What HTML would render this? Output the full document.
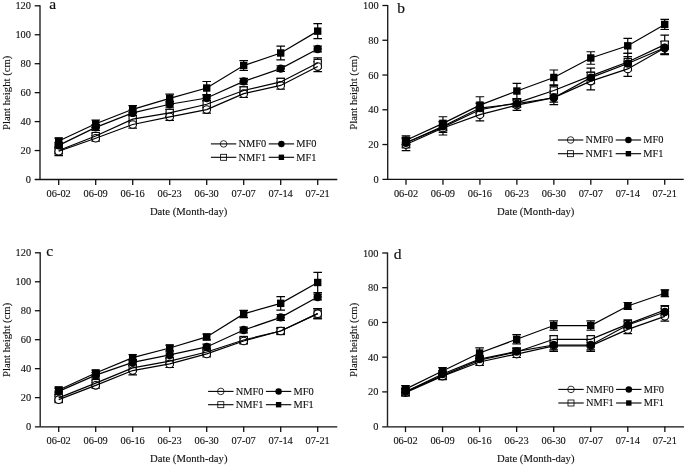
<!DOCTYPE html>
<html><head><meta charset="utf-8"><style>
html,body{margin:0;padding:0;background:#fff;}
svg{display:block;will-change:transform;}
.t{font-family:"Liberation Serif", serif;font-size:10.4px;fill:#111;stroke:#111;stroke-width:0.12px;}
.t2{font-family:"Liberation Serif", serif;font-size:10.7px;fill:#111;stroke:#111;stroke-width:0.12px;}
.lab{font-family:"Liberation Serif", serif;font-size:15.5px;fill:#111;stroke:#111;stroke-width:0.2px;}
</style></head><body>
<svg width="685" height="467" viewBox="0 0 685 467">
<line x1="40.00" y1="5.30" x2="40.00" y2="179.50" stroke="#222" stroke-width="1.4"/>
<line x1="34.70" y1="179.50" x2="337.30" y2="179.50" stroke="#111" stroke-width="1.3"/>
<text x="31.00" y="183.10" text-anchor="end" class="t">0</text>
<line x1="34.70" y1="150.55" x2="40.00" y2="150.55" stroke="#111" stroke-width="1.3"/>
<text x="31.00" y="154.15" text-anchor="end" class="t">20</text>
<line x1="34.70" y1="121.60" x2="40.00" y2="121.60" stroke="#111" stroke-width="1.3"/>
<text x="31.00" y="125.20" text-anchor="end" class="t">40</text>
<line x1="34.70" y1="92.65" x2="40.00" y2="92.65" stroke="#111" stroke-width="1.3"/>
<text x="31.00" y="96.25" text-anchor="end" class="t">60</text>
<line x1="34.70" y1="63.70" x2="40.00" y2="63.70" stroke="#111" stroke-width="1.3"/>
<text x="31.00" y="67.30" text-anchor="end" class="t">80</text>
<line x1="34.70" y1="34.75" x2="40.00" y2="34.75" stroke="#111" stroke-width="1.3"/>
<text x="31.00" y="38.35" text-anchor="end" class="t">100</text>
<line x1="34.70" y1="5.80" x2="40.00" y2="5.80" stroke="#111" stroke-width="1.3"/>
<text x="31.00" y="9.40" text-anchor="end" class="t">120</text>
<line x1="58.70" y1="179.50" x2="58.70" y2="185.00" stroke="#111" stroke-width="1.3"/>
<text x="58.70" y="197.00" text-anchor="middle" class="t">06-02</text>
<line x1="95.70" y1="179.50" x2="95.70" y2="185.00" stroke="#111" stroke-width="1.3"/>
<text x="95.70" y="197.00" text-anchor="middle" class="t">06-09</text>
<line x1="132.70" y1="179.50" x2="132.70" y2="185.00" stroke="#111" stroke-width="1.3"/>
<text x="132.70" y="197.00" text-anchor="middle" class="t">06-16</text>
<line x1="169.70" y1="179.50" x2="169.70" y2="185.00" stroke="#111" stroke-width="1.3"/>
<text x="169.70" y="197.00" text-anchor="middle" class="t">06-23</text>
<line x1="206.70" y1="179.50" x2="206.70" y2="185.00" stroke="#111" stroke-width="1.3"/>
<text x="206.70" y="197.00" text-anchor="middle" class="t">06-30</text>
<line x1="243.70" y1="179.50" x2="243.70" y2="185.00" stroke="#111" stroke-width="1.3"/>
<text x="243.70" y="197.00" text-anchor="middle" class="t">07-07</text>
<line x1="280.70" y1="179.50" x2="280.70" y2="185.00" stroke="#111" stroke-width="1.3"/>
<text x="280.70" y="197.00" text-anchor="middle" class="t">07-14</text>
<line x1="317.70" y1="179.50" x2="317.70" y2="185.00" stroke="#111" stroke-width="1.3"/>
<text x="317.70" y="197.00" text-anchor="middle" class="t">07-21</text>
<text x="188.65" y="214.80" text-anchor="middle" class="t2">Date (Month-day)</text>
<text transform="translate(9.60,92.80) rotate(-90)" text-anchor="middle" class="t2">Plant height (cm)</text>
<text x="49.30" y="8.80" class="lab">a</text>
<path d="M58.70,147.66V153.44M54.40,147.66H63.00M54.40,153.44H63.00" stroke="#000" stroke-width="1.2" fill="none"/>
<path d="M95.70,133.18V138.97M91.40,133.18H100.00M91.40,138.97H100.00" stroke="#000" stroke-width="1.2" fill="none"/>
<path d="M132.70,115.52V122.76M128.40,115.52H137.00M128.40,122.76H137.00" stroke="#000" stroke-width="1.2" fill="none"/>
<path d="M169.70,109.30V116.53M165.40,109.30H174.00M165.40,116.53H174.00" stroke="#000" stroke-width="1.2" fill="none"/>
<path d="M206.70,100.61V107.85M202.40,100.61H211.00M202.40,107.85H211.00" stroke="#000" stroke-width="1.2" fill="none"/>
<path d="M243.70,86.86V94.10M239.40,86.86H248.00M239.40,94.10H248.00" stroke="#000" stroke-width="1.2" fill="none"/>
<path d="M280.70,78.32V85.56M276.40,78.32H285.00M276.40,85.56H285.00" stroke="#000" stroke-width="1.2" fill="none"/>
<path d="M317.70,57.91V68.04M313.40,57.91H322.00M313.40,68.04H322.00" stroke="#000" stroke-width="1.2" fill="none"/>
<path d="M58.70,146.93V155.62M54.40,146.93H63.00M54.40,155.62H63.00" stroke="#000" stroke-width="1.2" fill="none"/>
<path d="M95.70,135.35V141.14M91.40,135.35H100.00M91.40,141.14H100.00" stroke="#000" stroke-width="1.2" fill="none"/>
<path d="M132.70,120.88V128.11M128.40,120.88H137.00M128.40,128.11H137.00" stroke="#000" stroke-width="1.2" fill="none"/>
<path d="M169.70,113.20V120.44M165.40,113.20H174.00M165.40,120.44H174.00" stroke="#000" stroke-width="1.2" fill="none"/>
<path d="M206.70,105.97V113.20M202.40,105.97H211.00M202.40,113.20H211.00" stroke="#000" stroke-width="1.2" fill="none"/>
<path d="M243.70,90.04V97.28M239.40,90.04H248.00M239.40,97.28H248.00" stroke="#000" stroke-width="1.2" fill="none"/>
<path d="M280.70,81.79V89.03M276.40,81.79H285.00M276.40,89.03H285.00" stroke="#000" stroke-width="1.2" fill="none"/>
<path d="M317.70,61.53V71.66M313.40,61.53H322.00M313.40,71.66H322.00" stroke="#000" stroke-width="1.2" fill="none"/>
<path d="M58.70,142.44V148.23M54.40,142.44H63.00M54.40,148.23H63.00" stroke="#000" stroke-width="1.2" fill="none"/>
<path d="M95.70,124.50V130.28M91.40,124.50H100.00M91.40,130.28H100.00" stroke="#000" stroke-width="1.2" fill="none"/>
<path d="M132.70,110.02V115.81M128.40,110.02H137.00M128.40,115.81H137.00" stroke="#000" stroke-width="1.2" fill="none"/>
<path d="M169.70,101.33V107.12M165.40,101.33H174.00M165.40,107.12H174.00" stroke="#000" stroke-width="1.2" fill="none"/>
<path d="M206.70,95.11V100.90M202.40,95.11H211.00M202.40,100.90H211.00" stroke="#000" stroke-width="1.2" fill="none"/>
<path d="M243.70,78.46V84.25M239.40,78.46H248.00M239.40,84.25H248.00" stroke="#000" stroke-width="1.2" fill="none"/>
<path d="M280.70,65.73V71.52M276.40,65.73H285.00M276.40,71.52H285.00" stroke="#000" stroke-width="1.2" fill="none"/>
<path d="M317.70,46.04V51.83M313.40,46.04H322.00M313.40,51.83H322.00" stroke="#000" stroke-width="1.2" fill="none"/>
<path d="M58.70,138.10V143.89M54.40,138.10H63.00M54.40,143.89H63.00" stroke="#000" stroke-width="1.2" fill="none"/>
<path d="M95.70,120.01V127.53M91.40,120.01H100.00M91.40,127.53H100.00" stroke="#000" stroke-width="1.2" fill="none"/>
<path d="M132.70,105.68V112.92M128.40,105.68H137.00M128.40,112.92H137.00" stroke="#000" stroke-width="1.2" fill="none"/>
<path d="M169.70,94.10V102.78M165.40,94.10H174.00M165.40,102.78H174.00" stroke="#000" stroke-width="1.2" fill="none"/>
<path d="M206.70,81.50V94.53M202.40,81.50H211.00M202.40,94.53H211.00" stroke="#000" stroke-width="1.2" fill="none"/>
<path d="M243.70,60.66V70.50M239.40,60.66H248.00M239.40,70.50H248.00" stroke="#000" stroke-width="1.2" fill="none"/>
<path d="M280.70,46.04V59.94M276.40,46.04H285.00M276.40,59.94H285.00" stroke="#000" stroke-width="1.2" fill="none"/>
<path d="M317.70,23.60V38.66M313.40,23.60H322.00M313.40,38.66H322.00" stroke="#000" stroke-width="1.2" fill="none"/>
<rect x="55.10" y="146.95" width="7.20" height="7.20" fill="#fff" stroke="#000" stroke-width="1.1"/>
<rect x="92.10" y="132.47" width="7.20" height="7.20" fill="#fff" stroke="#000" stroke-width="1.1"/>
<rect x="129.10" y="115.54" width="7.20" height="7.20" fill="#fff" stroke="#000" stroke-width="1.1"/>
<rect x="166.10" y="109.32" width="7.20" height="7.20" fill="#fff" stroke="#000" stroke-width="1.1"/>
<rect x="203.10" y="100.63" width="7.20" height="7.20" fill="#fff" stroke="#000" stroke-width="1.1"/>
<rect x="240.10" y="86.88" width="7.20" height="7.20" fill="#fff" stroke="#000" stroke-width="1.1"/>
<rect x="277.10" y="78.34" width="7.20" height="7.20" fill="#fff" stroke="#000" stroke-width="1.1"/>
<rect x="314.10" y="59.38" width="7.20" height="7.20" fill="#fff" stroke="#000" stroke-width="1.1"/>
<circle cx="58.70" cy="151.27" r="3.80" fill="#fff" stroke="#000" stroke-width="1.1"/>
<circle cx="95.70" cy="138.25" r="3.80" fill="#fff" stroke="#000" stroke-width="1.1"/>
<circle cx="132.70" cy="124.50" r="3.80" fill="#fff" stroke="#000" stroke-width="1.1"/>
<circle cx="169.70" cy="116.82" r="3.80" fill="#fff" stroke="#000" stroke-width="1.1"/>
<circle cx="206.70" cy="109.59" r="3.80" fill="#fff" stroke="#000" stroke-width="1.1"/>
<circle cx="243.70" cy="93.66" r="3.80" fill="#fff" stroke="#000" stroke-width="1.1"/>
<circle cx="280.70" cy="85.41" r="3.80" fill="#fff" stroke="#000" stroke-width="1.1"/>
<circle cx="317.70" cy="66.59" r="3.80" fill="#fff" stroke="#000" stroke-width="1.1"/>
<circle cx="58.70" cy="145.34" r="4.20" fill="#000"/>
<circle cx="95.70" cy="127.39" r="4.20" fill="#000"/>
<circle cx="132.70" cy="112.92" r="4.20" fill="#000"/>
<circle cx="169.70" cy="104.23" r="4.20" fill="#000"/>
<circle cx="206.70" cy="98.01" r="4.20" fill="#000"/>
<circle cx="243.70" cy="81.36" r="4.20" fill="#000"/>
<circle cx="280.70" cy="68.62" r="4.20" fill="#000"/>
<circle cx="317.70" cy="48.94" r="4.20" fill="#000"/>
<rect x="55.00" y="137.30" width="7.40" height="7.40" fill="#000"/>
<rect x="92.00" y="120.07" width="7.40" height="7.40" fill="#000"/>
<rect x="129.00" y="105.60" width="7.40" height="7.40" fill="#000"/>
<rect x="166.00" y="94.74" width="7.40" height="7.40" fill="#000"/>
<rect x="203.00" y="84.32" width="7.40" height="7.40" fill="#000"/>
<rect x="240.00" y="61.88" width="7.40" height="7.40" fill="#000"/>
<rect x="277.00" y="49.29" width="7.40" height="7.40" fill="#000"/>
<rect x="314.00" y="27.43" width="7.40" height="7.40" fill="#000"/>
<polyline points="58.70,150.55 95.70,136.07 132.70,119.14 169.70,112.92 206.70,104.23 243.70,90.48 280.70,81.94 317.70,62.98" fill="none" stroke="#000" stroke-width="1.2"/>
<polyline points="58.70,151.27 95.70,138.25 132.70,124.50 169.70,116.82 206.70,109.59 243.70,93.66 280.70,85.41 317.70,66.59" fill="none" stroke="#000" stroke-width="1.2"/>
<polyline points="58.70,145.34 95.70,127.39 132.70,112.92 169.70,104.23 206.70,98.01 243.70,81.36 280.70,68.62 317.70,48.94" fill="none" stroke="#000" stroke-width="1.2"/>
<polyline points="58.70,141.00 95.70,123.77 132.70,109.30 169.70,98.44 206.70,88.02 243.70,65.58 280.70,52.99 317.70,31.13" fill="none" stroke="#000" stroke-width="1.2"/>
<line x1="210.90" y1="143.90" x2="236.30" y2="143.90" stroke="#000" stroke-width="1.1"/>
<circle cx="223.60" cy="143.90" r="3.30" fill="none" stroke="#000" stroke-width="0.8"/>
<text x="238.50" y="147.20" class="t">NMF0</text>
<line x1="268.70" y1="143.90" x2="294.10" y2="143.90" stroke="#000" stroke-width="1.1"/>
<circle cx="281.40" cy="143.90" r="3.25" fill="#000"/>
<text x="296.30" y="147.20" class="t">MF0</text>
<line x1="210.90" y1="157.30" x2="236.30" y2="157.30" stroke="#000" stroke-width="1.1"/>
<rect x="220.60" y="154.30" width="6.00" height="6.00" fill="none" stroke="#000" stroke-width="0.8"/>
<text x="238.50" y="160.60" class="t">NMF1</text>
<line x1="268.70" y1="157.30" x2="294.10" y2="157.30" stroke="#000" stroke-width="1.1"/>
<rect x="278.70" y="154.60" width="5.40" height="5.40" fill="#000"/>
<text x="296.30" y="160.60" class="t">MF1</text>
<line x1="387.70" y1="5.00" x2="387.70" y2="179.30" stroke="#222" stroke-width="1.4"/>
<line x1="382.40" y1="179.30" x2="683.70" y2="179.30" stroke="#111" stroke-width="1.3"/>
<text x="378.70" y="182.90" text-anchor="end" class="t">0</text>
<line x1="382.40" y1="144.54" x2="387.70" y2="144.54" stroke="#111" stroke-width="1.3"/>
<text x="378.70" y="148.14" text-anchor="end" class="t">20</text>
<line x1="382.40" y1="109.78" x2="387.70" y2="109.78" stroke="#111" stroke-width="1.3"/>
<text x="378.70" y="113.38" text-anchor="end" class="t">40</text>
<line x1="382.40" y1="75.02" x2="387.70" y2="75.02" stroke="#111" stroke-width="1.3"/>
<text x="378.70" y="78.62" text-anchor="end" class="t">60</text>
<line x1="382.40" y1="40.26" x2="387.70" y2="40.26" stroke="#111" stroke-width="1.3"/>
<text x="378.70" y="43.86" text-anchor="end" class="t">80</text>
<line x1="382.40" y1="5.50" x2="387.70" y2="5.50" stroke="#111" stroke-width="1.3"/>
<text x="378.70" y="9.10" text-anchor="end" class="t">100</text>
<line x1="406.00" y1="179.30" x2="406.00" y2="184.80" stroke="#111" stroke-width="1.3"/>
<text x="406.00" y="196.80" text-anchor="middle" class="t">06-02</text>
<line x1="442.96" y1="179.30" x2="442.96" y2="184.80" stroke="#111" stroke-width="1.3"/>
<text x="442.96" y="196.80" text-anchor="middle" class="t">06-09</text>
<line x1="479.92" y1="179.30" x2="479.92" y2="184.80" stroke="#111" stroke-width="1.3"/>
<text x="479.92" y="196.80" text-anchor="middle" class="t">06-16</text>
<line x1="516.88" y1="179.30" x2="516.88" y2="184.80" stroke="#111" stroke-width="1.3"/>
<text x="516.88" y="196.80" text-anchor="middle" class="t">06-23</text>
<line x1="553.84" y1="179.30" x2="553.84" y2="184.80" stroke="#111" stroke-width="1.3"/>
<text x="553.84" y="196.80" text-anchor="middle" class="t">06-30</text>
<line x1="590.80" y1="179.30" x2="590.80" y2="184.80" stroke="#111" stroke-width="1.3"/>
<text x="590.80" y="196.80" text-anchor="middle" class="t">07-07</text>
<line x1="627.76" y1="179.30" x2="627.76" y2="184.80" stroke="#111" stroke-width="1.3"/>
<text x="627.76" y="196.80" text-anchor="middle" class="t">07-14</text>
<line x1="664.72" y1="179.30" x2="664.72" y2="184.80" stroke="#111" stroke-width="1.3"/>
<text x="664.72" y="196.80" text-anchor="middle" class="t">07-21</text>
<text x="535.70" y="214.60" text-anchor="middle" class="t2">Date (Month-day)</text>
<text transform="translate(357.30,92.60) rotate(-90)" text-anchor="middle" class="t2">Plant height (cm)</text>
<text x="397.30" y="13.00" class="lab">b</text>
<path d="M406.00,137.59V148.02M401.70,137.59H410.30M401.70,148.02H410.30" stroke="#000" stroke-width="1.2" fill="none"/>
<path d="M442.96,121.95V132.37M438.66,121.95H447.26M438.66,132.37H447.26" stroke="#000" stroke-width="1.2" fill="none"/>
<path d="M479.92,103.70V115.86M475.62,103.70H484.22M475.62,115.86H484.22" stroke="#000" stroke-width="1.2" fill="none"/>
<path d="M516.88,98.48V107.17M512.58,98.48H521.18M512.58,107.17H521.18" stroke="#000" stroke-width="1.2" fill="none"/>
<path d="M553.84,85.62V95.35M549.54,85.62H558.14M549.54,95.35H558.14" stroke="#000" stroke-width="1.2" fill="none"/>
<path d="M590.80,68.07V83.71M586.50,68.07H595.10M586.50,83.71H595.10" stroke="#000" stroke-width="1.2" fill="none"/>
<path d="M627.76,53.30V70.67M623.46,53.30H632.06M623.46,70.67H632.06" stroke="#000" stroke-width="1.2" fill="none"/>
<path d="M664.72,35.05V54.16M660.42,35.05H669.02M660.42,54.16H669.02" stroke="#000" stroke-width="1.2" fill="none"/>
<path d="M406.00,138.46V150.62M401.70,138.46H410.30M401.70,150.62H410.30" stroke="#000" stroke-width="1.2" fill="none"/>
<path d="M442.96,121.08V134.98M438.66,121.08H447.26M438.66,134.98H447.26" stroke="#000" stroke-width="1.2" fill="none"/>
<path d="M479.92,108.39V120.90M475.62,108.39H484.22M475.62,120.90H484.22" stroke="#000" stroke-width="1.2" fill="none"/>
<path d="M516.88,99.87V110.30M512.58,99.87H521.18M512.58,110.30H521.18" stroke="#000" stroke-width="1.2" fill="none"/>
<path d="M553.84,90.66V104.57M549.54,90.66H558.14M549.54,104.57H558.14" stroke="#000" stroke-width="1.2" fill="none"/>
<path d="M590.80,72.41V89.79M586.50,72.41H595.10M586.50,89.79H595.10" stroke="#000" stroke-width="1.2" fill="none"/>
<path d="M627.76,61.46V76.41M623.46,61.46H632.06M623.46,76.41H632.06" stroke="#000" stroke-width="1.2" fill="none"/>
<path d="M664.72,41.48V54.69M660.42,41.48H669.02M660.42,54.69H669.02" stroke="#000" stroke-width="1.2" fill="none"/>
<path d="M406.00,138.46V147.15M401.70,138.46H410.30M401.70,147.15H410.30" stroke="#000" stroke-width="1.2" fill="none"/>
<path d="M442.96,121.95V130.64M438.66,121.95H447.26M438.66,130.64H447.26" stroke="#000" stroke-width="1.2" fill="none"/>
<path d="M479.92,102.83V113.26M475.62,102.83H484.22M475.62,113.26H484.22" stroke="#000" stroke-width="1.2" fill="none"/>
<path d="M516.88,100.22V107.17M512.58,100.22H521.18M512.58,107.17H521.18" stroke="#000" stroke-width="1.2" fill="none"/>
<path d="M553.84,93.44V102.13M549.54,93.44H558.14M549.54,102.13H558.14" stroke="#000" stroke-width="1.2" fill="none"/>
<path d="M590.80,72.41V82.84M586.50,72.41H595.10M586.50,82.84H595.10" stroke="#000" stroke-width="1.2" fill="none"/>
<path d="M627.76,56.60V70.50M623.46,56.60H632.06M623.46,70.50H632.06" stroke="#000" stroke-width="1.2" fill="none"/>
<path d="M664.72,41.65V53.82M660.42,41.65H669.02M660.42,53.82H669.02" stroke="#000" stroke-width="1.2" fill="none"/>
<path d="M406.00,135.85V144.54M401.70,135.85H410.30M401.70,144.54H410.30" stroke="#000" stroke-width="1.2" fill="none"/>
<path d="M442.96,116.73V129.94M438.66,116.73H447.26M438.66,129.94H447.26" stroke="#000" stroke-width="1.2" fill="none"/>
<path d="M479.92,96.75V113.43M475.62,96.75H484.22M475.62,113.43H484.22" stroke="#000" stroke-width="1.2" fill="none"/>
<path d="M516.88,83.36V98.66M512.58,83.36H521.18M512.58,98.66H521.18" stroke="#000" stroke-width="1.2" fill="none"/>
<path d="M553.84,69.98V84.93M549.54,69.98H558.14M549.54,84.93H558.14" stroke="#000" stroke-width="1.2" fill="none"/>
<path d="M590.80,51.73V64.24M586.50,51.73H595.10M586.50,64.24H595.10" stroke="#000" stroke-width="1.2" fill="none"/>
<path d="M627.76,38.35V53.30M623.46,38.35H632.06M623.46,53.30H632.06" stroke="#000" stroke-width="1.2" fill="none"/>
<path d="M664.72,19.40V29.48M660.42,19.40H669.02M660.42,29.48H669.02" stroke="#000" stroke-width="1.2" fill="none"/>
<rect x="402.40" y="139.20" width="7.20" height="7.20" fill="#fff" stroke="#000" stroke-width="1.1"/>
<rect x="439.36" y="123.56" width="7.20" height="7.20" fill="#fff" stroke="#000" stroke-width="1.1"/>
<rect x="476.32" y="106.18" width="7.20" height="7.20" fill="#fff" stroke="#000" stroke-width="1.1"/>
<rect x="513.28" y="99.23" width="7.20" height="7.20" fill="#fff" stroke="#000" stroke-width="1.1"/>
<rect x="550.24" y="86.89" width="7.20" height="7.20" fill="#fff" stroke="#000" stroke-width="1.1"/>
<rect x="587.20" y="72.29" width="7.20" height="7.20" fill="#fff" stroke="#000" stroke-width="1.1"/>
<rect x="624.16" y="58.38" width="7.20" height="7.20" fill="#fff" stroke="#000" stroke-width="1.1"/>
<rect x="661.12" y="41.00" width="7.20" height="7.20" fill="#fff" stroke="#000" stroke-width="1.1"/>
<circle cx="406.00" cy="144.54" r="3.80" fill="#fff" stroke="#000" stroke-width="1.1"/>
<circle cx="442.96" cy="128.03" r="3.80" fill="#fff" stroke="#000" stroke-width="1.1"/>
<circle cx="479.92" cy="114.65" r="3.80" fill="#fff" stroke="#000" stroke-width="1.1"/>
<circle cx="516.88" cy="105.09" r="3.80" fill="#fff" stroke="#000" stroke-width="1.1"/>
<circle cx="553.84" cy="97.61" r="3.80" fill="#fff" stroke="#000" stroke-width="1.1"/>
<circle cx="590.80" cy="81.10" r="3.80" fill="#fff" stroke="#000" stroke-width="1.1"/>
<circle cx="627.76" cy="68.94" r="3.80" fill="#fff" stroke="#000" stroke-width="1.1"/>
<circle cx="664.72" cy="48.08" r="3.80" fill="#fff" stroke="#000" stroke-width="1.1"/>
<circle cx="406.00" cy="142.80" r="4.20" fill="#000"/>
<circle cx="442.96" cy="126.29" r="4.20" fill="#000"/>
<circle cx="479.92" cy="108.04" r="4.20" fill="#000"/>
<circle cx="516.88" cy="103.70" r="4.20" fill="#000"/>
<circle cx="553.84" cy="97.79" r="4.20" fill="#000"/>
<circle cx="590.80" cy="77.63" r="4.20" fill="#000"/>
<circle cx="627.76" cy="63.55" r="4.20" fill="#000"/>
<circle cx="664.72" cy="47.73" r="4.20" fill="#000"/>
<rect x="402.30" y="136.50" width="7.40" height="7.40" fill="#000"/>
<rect x="439.26" y="119.64" width="7.40" height="7.40" fill="#000"/>
<rect x="476.22" y="101.39" width="7.40" height="7.40" fill="#000"/>
<rect x="513.18" y="87.31" width="7.40" height="7.40" fill="#000"/>
<rect x="550.14" y="73.75" width="7.40" height="7.40" fill="#000"/>
<rect x="587.10" y="54.29" width="7.40" height="7.40" fill="#000"/>
<rect x="624.06" y="42.12" width="7.40" height="7.40" fill="#000"/>
<rect x="661.02" y="20.74" width="7.40" height="7.40" fill="#000"/>
<polyline points="406.00,142.80 442.96,127.16 479.92,109.78 516.88,102.83 553.84,90.49 590.80,75.89 627.76,61.98 664.72,44.60" fill="none" stroke="#000" stroke-width="1.2"/>
<polyline points="406.00,144.54 442.96,128.03 479.92,114.65 516.88,105.09 553.84,97.61 590.80,81.10 627.76,68.94 664.72,48.08" fill="none" stroke="#000" stroke-width="1.2"/>
<polyline points="406.00,142.80 442.96,126.29 479.92,108.04 516.88,103.70 553.84,97.79 590.80,77.63 627.76,63.55 664.72,47.73" fill="none" stroke="#000" stroke-width="1.2"/>
<polyline points="406.00,140.19 442.96,123.34 479.92,105.09 516.88,91.01 553.84,77.45 590.80,57.99 627.76,45.82 664.72,24.44" fill="none" stroke="#000" stroke-width="1.2"/>
<line x1="557.90" y1="140.00" x2="583.30" y2="140.00" stroke="#000" stroke-width="1.1"/>
<circle cx="570.60" cy="140.00" r="3.30" fill="none" stroke="#000" stroke-width="0.8"/>
<text x="585.50" y="143.30" class="t">NMF0</text>
<line x1="615.70" y1="140.00" x2="641.10" y2="140.00" stroke="#000" stroke-width="1.1"/>
<circle cx="628.40" cy="140.00" r="3.25" fill="#000"/>
<text x="643.30" y="143.30" class="t">MF0</text>
<line x1="557.90" y1="153.70" x2="583.30" y2="153.70" stroke="#000" stroke-width="1.1"/>
<rect x="567.60" y="150.70" width="6.00" height="6.00" fill="none" stroke="#000" stroke-width="0.8"/>
<text x="585.50" y="157.00" class="t">NMF1</text>
<line x1="615.70" y1="153.70" x2="641.10" y2="153.70" stroke="#000" stroke-width="1.1"/>
<rect x="625.70" y="151.00" width="5.40" height="5.40" fill="#000"/>
<text x="643.30" y="157.00" class="t">MF1</text>
<line x1="40.20" y1="252.30" x2="40.20" y2="426.60" stroke="#222" stroke-width="1.4"/>
<line x1="34.90" y1="426.90" x2="337.30" y2="426.90" stroke="#111" stroke-width="1.3"/>
<text x="31.20" y="430.20" text-anchor="end" class="t">0</text>
<line x1="34.90" y1="397.63" x2="40.20" y2="397.63" stroke="#111" stroke-width="1.3"/>
<text x="31.20" y="401.23" text-anchor="end" class="t">20</text>
<line x1="34.90" y1="368.67" x2="40.20" y2="368.67" stroke="#111" stroke-width="1.3"/>
<text x="31.20" y="372.27" text-anchor="end" class="t">40</text>
<line x1="34.90" y1="339.70" x2="40.20" y2="339.70" stroke="#111" stroke-width="1.3"/>
<text x="31.20" y="343.30" text-anchor="end" class="t">60</text>
<line x1="34.90" y1="310.73" x2="40.20" y2="310.73" stroke="#111" stroke-width="1.3"/>
<text x="31.20" y="314.33" text-anchor="end" class="t">80</text>
<line x1="34.90" y1="281.77" x2="40.20" y2="281.77" stroke="#111" stroke-width="1.3"/>
<text x="31.20" y="285.37" text-anchor="end" class="t">100</text>
<line x1="34.90" y1="252.80" x2="40.20" y2="252.80" stroke="#111" stroke-width="1.3"/>
<text x="31.20" y="256.40" text-anchor="end" class="t">120</text>
<line x1="58.70" y1="426.60" x2="58.70" y2="432.10" stroke="#111" stroke-width="1.3"/>
<text x="58.70" y="444.10" text-anchor="middle" class="t">06-02</text>
<line x1="95.70" y1="426.60" x2="95.70" y2="432.10" stroke="#111" stroke-width="1.3"/>
<text x="95.70" y="444.10" text-anchor="middle" class="t">06-09</text>
<line x1="132.70" y1="426.60" x2="132.70" y2="432.10" stroke="#111" stroke-width="1.3"/>
<text x="132.70" y="444.10" text-anchor="middle" class="t">06-16</text>
<line x1="169.70" y1="426.60" x2="169.70" y2="432.10" stroke="#111" stroke-width="1.3"/>
<text x="169.70" y="444.10" text-anchor="middle" class="t">06-23</text>
<line x1="206.70" y1="426.60" x2="206.70" y2="432.10" stroke="#111" stroke-width="1.3"/>
<text x="206.70" y="444.10" text-anchor="middle" class="t">06-30</text>
<line x1="243.70" y1="426.60" x2="243.70" y2="432.10" stroke="#111" stroke-width="1.3"/>
<text x="243.70" y="444.10" text-anchor="middle" class="t">07-07</text>
<line x1="280.70" y1="426.60" x2="280.70" y2="432.10" stroke="#111" stroke-width="1.3"/>
<text x="280.70" y="444.10" text-anchor="middle" class="t">07-14</text>
<line x1="317.70" y1="426.60" x2="317.70" y2="432.10" stroke="#111" stroke-width="1.3"/>
<text x="317.70" y="444.10" text-anchor="middle" class="t">07-21</text>
<text x="188.75" y="461.90" text-anchor="middle" class="t2">Date (Month-day)</text>
<text transform="translate(9.80,339.90) rotate(-90)" text-anchor="middle" class="t2">Plant height (cm)</text>
<text x="46.30" y="255.60" class="lab">c</text>
<path d="M58.70,395.03V400.82M54.40,395.03H63.00M54.40,400.82H63.00" stroke="#000" stroke-width="1.2" fill="none"/>
<path d="M95.70,380.25V386.05M91.40,380.25H100.00M91.40,386.05H100.00" stroke="#000" stroke-width="1.2" fill="none"/>
<path d="M132.70,365.05V370.84M128.40,365.05H137.00M128.40,370.84H137.00" stroke="#000" stroke-width="1.2" fill="none"/>
<path d="M169.70,358.24V364.03M165.40,358.24H174.00M165.40,364.03H174.00" stroke="#000" stroke-width="1.2" fill="none"/>
<path d="M206.70,349.11V354.91M202.40,349.11H211.00M202.40,354.91H211.00" stroke="#000" stroke-width="1.2" fill="none"/>
<path d="M243.70,337.09V342.89M239.40,337.09H248.00M239.40,342.89H248.00" stroke="#000" stroke-width="1.2" fill="none"/>
<path d="M280.70,328.11V333.91M276.40,328.11H285.00M276.40,333.91H285.00" stroke="#000" stroke-width="1.2" fill="none"/>
<path d="M317.70,308.56V318.70M313.40,308.56H322.00M313.40,318.70H322.00" stroke="#000" stroke-width="1.2" fill="none"/>
<path d="M58.70,396.76V402.56M54.40,396.76H63.00M54.40,402.56H63.00" stroke="#000" stroke-width="1.2" fill="none"/>
<path d="M95.70,382.43V388.22M91.40,382.43H100.00M91.40,388.22H100.00" stroke="#000" stroke-width="1.2" fill="none"/>
<path d="M132.70,366.20V374.89M128.40,366.20H137.00M128.40,374.89H137.00" stroke="#000" stroke-width="1.2" fill="none"/>
<path d="M169.70,360.27V367.51M165.40,360.27H174.00M165.40,367.51H174.00" stroke="#000" stroke-width="1.2" fill="none"/>
<path d="M206.70,351.00V356.79M202.40,351.00H211.00M202.40,356.79H211.00" stroke="#000" stroke-width="1.2" fill="none"/>
<path d="M243.70,338.11V343.90M239.40,338.11H248.00M239.40,343.90H248.00" stroke="#000" stroke-width="1.2" fill="none"/>
<path d="M280.70,328.11V333.91M276.40,328.11H285.00M276.40,333.91H285.00" stroke="#000" stroke-width="1.2" fill="none"/>
<path d="M317.70,308.56V318.70M313.40,308.56H322.00M313.40,318.70H322.00" stroke="#000" stroke-width="1.2" fill="none"/>
<path d="M58.70,388.51V394.30M54.40,388.51H63.00M54.40,394.30H63.00" stroke="#000" stroke-width="1.2" fill="none"/>
<path d="M95.70,372.29V378.08M91.40,372.29H100.00M91.40,378.08H100.00" stroke="#000" stroke-width="1.2" fill="none"/>
<path d="M132.70,359.54V365.34M128.40,359.54H137.00M128.40,365.34H137.00" stroke="#000" stroke-width="1.2" fill="none"/>
<path d="M169.70,352.01V357.80M165.40,352.01H174.00M165.40,357.80H174.00" stroke="#000" stroke-width="1.2" fill="none"/>
<path d="M206.70,344.05V349.84M202.40,344.05H211.00M202.40,349.84H211.00" stroke="#000" stroke-width="1.2" fill="none"/>
<path d="M243.70,327.10V332.89M239.40,327.10H248.00M239.40,332.89H248.00" stroke="#000" stroke-width="1.2" fill="none"/>
<path d="M280.70,314.50V320.29M276.40,314.50H285.00M276.40,320.29H285.00" stroke="#000" stroke-width="1.2" fill="none"/>
<path d="M317.70,294.08V299.87M313.40,294.08H322.00M313.40,299.87H322.00" stroke="#000" stroke-width="1.2" fill="none"/>
<path d="M58.70,387.06V392.85M54.40,387.06H63.00M54.40,392.85H63.00" stroke="#000" stroke-width="1.2" fill="none"/>
<path d="M95.70,370.12V375.91M91.40,370.12H100.00M91.40,375.91H100.00" stroke="#000" stroke-width="1.2" fill="none"/>
<path d="M132.70,354.76V360.56M128.40,354.76H137.00M128.40,360.56H137.00" stroke="#000" stroke-width="1.2" fill="none"/>
<path d="M169.70,345.06V350.85M165.40,345.06H174.00M165.40,350.85H174.00" stroke="#000" stroke-width="1.2" fill="none"/>
<path d="M206.70,334.05V339.84M202.40,334.05H211.00M202.40,339.84H211.00" stroke="#000" stroke-width="1.2" fill="none"/>
<path d="M243.70,310.30V317.54M239.40,310.30H248.00M239.40,317.54H248.00" stroke="#000" stroke-width="1.2" fill="none"/>
<path d="M280.70,296.54V310.15M276.40,296.54H285.00M276.40,310.15H285.00" stroke="#000" stroke-width="1.2" fill="none"/>
<path d="M317.70,272.35V292.63M313.40,272.35H322.00M313.40,292.63H322.00" stroke="#000" stroke-width="1.2" fill="none"/>
<rect x="55.10" y="394.32" width="7.20" height="7.20" fill="#fff" stroke="#000" stroke-width="1.1"/>
<rect x="92.10" y="379.55" width="7.20" height="7.20" fill="#fff" stroke="#000" stroke-width="1.1"/>
<rect x="129.10" y="364.34" width="7.20" height="7.20" fill="#fff" stroke="#000" stroke-width="1.1"/>
<rect x="166.10" y="357.54" width="7.20" height="7.20" fill="#fff" stroke="#000" stroke-width="1.1"/>
<rect x="203.10" y="348.41" width="7.20" height="7.20" fill="#fff" stroke="#000" stroke-width="1.1"/>
<rect x="240.10" y="336.39" width="7.20" height="7.20" fill="#fff" stroke="#000" stroke-width="1.1"/>
<rect x="277.10" y="327.41" width="7.20" height="7.20" fill="#fff" stroke="#000" stroke-width="1.1"/>
<rect x="314.10" y="310.03" width="7.20" height="7.20" fill="#fff" stroke="#000" stroke-width="1.1"/>
<circle cx="58.70" cy="399.66" r="3.80" fill="#fff" stroke="#000" stroke-width="1.1"/>
<circle cx="95.70" cy="385.32" r="3.80" fill="#fff" stroke="#000" stroke-width="1.1"/>
<circle cx="132.70" cy="370.55" r="3.80" fill="#fff" stroke="#000" stroke-width="1.1"/>
<circle cx="169.70" cy="363.89" r="3.80" fill="#fff" stroke="#000" stroke-width="1.1"/>
<circle cx="206.70" cy="353.89" r="3.80" fill="#fff" stroke="#000" stroke-width="1.1"/>
<circle cx="243.70" cy="341.00" r="3.80" fill="#fff" stroke="#000" stroke-width="1.1"/>
<circle cx="280.70" cy="331.01" r="3.80" fill="#fff" stroke="#000" stroke-width="1.1"/>
<circle cx="317.70" cy="313.63" r="3.80" fill="#fff" stroke="#000" stroke-width="1.1"/>
<circle cx="58.70" cy="391.41" r="4.20" fill="#000"/>
<circle cx="95.70" cy="375.18" r="4.20" fill="#000"/>
<circle cx="132.70" cy="362.44" r="4.20" fill="#000"/>
<circle cx="169.70" cy="354.91" r="4.20" fill="#000"/>
<circle cx="206.70" cy="346.94" r="4.20" fill="#000"/>
<circle cx="243.70" cy="330.00" r="4.20" fill="#000"/>
<circle cx="280.70" cy="317.40" r="4.20" fill="#000"/>
<circle cx="317.70" cy="296.97" r="4.20" fill="#000"/>
<rect x="55.00" y="386.26" width="7.40" height="7.40" fill="#000"/>
<rect x="92.00" y="369.31" width="7.40" height="7.40" fill="#000"/>
<rect x="129.00" y="353.96" width="7.40" height="7.40" fill="#000"/>
<rect x="166.00" y="344.26" width="7.40" height="7.40" fill="#000"/>
<rect x="203.00" y="333.25" width="7.40" height="7.40" fill="#000"/>
<rect x="240.00" y="310.22" width="7.40" height="7.40" fill="#000"/>
<rect x="277.00" y="299.65" width="7.40" height="7.40" fill="#000"/>
<rect x="314.00" y="278.79" width="7.40" height="7.40" fill="#000"/>
<polyline points="58.70,397.92 95.70,383.15 132.70,367.94 169.70,361.14 206.70,352.01 243.70,339.99 280.70,331.01 317.70,313.63" fill="none" stroke="#000" stroke-width="1.2"/>
<polyline points="58.70,399.66 95.70,385.32 132.70,370.55 169.70,363.89 206.70,353.89 243.70,341.00 280.70,331.01 317.70,313.63" fill="none" stroke="#000" stroke-width="1.2"/>
<polyline points="58.70,391.41 95.70,375.18 132.70,362.44 169.70,354.91 206.70,346.94 243.70,330.00 280.70,317.40 317.70,296.97" fill="none" stroke="#000" stroke-width="1.2"/>
<polyline points="58.70,389.96 95.70,373.01 132.70,357.66 169.70,347.96 206.70,336.95 243.70,313.92 280.70,303.35 317.70,282.49" fill="none" stroke="#000" stroke-width="1.2"/>
<line x1="208.10" y1="391.40" x2="233.50" y2="391.40" stroke="#000" stroke-width="1.1"/>
<circle cx="220.80" cy="391.40" r="3.30" fill="none" stroke="#000" stroke-width="0.8"/>
<text x="235.70" y="394.70" class="t">NMF0</text>
<line x1="265.90" y1="391.40" x2="291.30" y2="391.40" stroke="#000" stroke-width="1.1"/>
<circle cx="278.60" cy="391.40" r="3.25" fill="#000"/>
<text x="293.50" y="394.70" class="t">MF0</text>
<line x1="208.10" y1="404.70" x2="233.50" y2="404.70" stroke="#000" stroke-width="1.1"/>
<rect x="217.80" y="401.70" width="6.00" height="6.00" fill="none" stroke="#000" stroke-width="0.8"/>
<text x="235.70" y="408.00" class="t">NMF1</text>
<line x1="265.90" y1="404.70" x2="291.30" y2="404.70" stroke="#000" stroke-width="1.1"/>
<rect x="275.90" y="402.00" width="5.40" height="5.40" fill="#000"/>
<text x="293.50" y="408.00" class="t">MF1</text>
<line x1="387.50" y1="252.50" x2="387.50" y2="426.60" stroke="#222" stroke-width="1.4"/>
<line x1="382.20" y1="426.90" x2="684.00" y2="426.90" stroke="#111" stroke-width="1.3"/>
<text x="378.50" y="430.20" text-anchor="end" class="t">0</text>
<line x1="382.20" y1="391.88" x2="387.50" y2="391.88" stroke="#111" stroke-width="1.3"/>
<text x="378.50" y="395.48" text-anchor="end" class="t">20</text>
<line x1="382.20" y1="357.16" x2="387.50" y2="357.16" stroke="#111" stroke-width="1.3"/>
<text x="378.50" y="360.76" text-anchor="end" class="t">40</text>
<line x1="382.20" y1="322.44" x2="387.50" y2="322.44" stroke="#111" stroke-width="1.3"/>
<text x="378.50" y="326.04" text-anchor="end" class="t">60</text>
<line x1="382.20" y1="287.72" x2="387.50" y2="287.72" stroke="#111" stroke-width="1.3"/>
<text x="378.50" y="291.32" text-anchor="end" class="t">80</text>
<line x1="382.20" y1="253.00" x2="387.50" y2="253.00" stroke="#111" stroke-width="1.3"/>
<text x="378.50" y="256.60" text-anchor="end" class="t">100</text>
<line x1="405.50" y1="426.60" x2="405.50" y2="432.10" stroke="#111" stroke-width="1.3"/>
<text x="405.50" y="444.10" text-anchor="middle" class="t">06-02</text>
<line x1="442.55" y1="426.60" x2="442.55" y2="432.10" stroke="#111" stroke-width="1.3"/>
<text x="442.55" y="444.10" text-anchor="middle" class="t">06-09</text>
<line x1="479.60" y1="426.60" x2="479.60" y2="432.10" stroke="#111" stroke-width="1.3"/>
<text x="479.60" y="444.10" text-anchor="middle" class="t">06-16</text>
<line x1="516.65" y1="426.60" x2="516.65" y2="432.10" stroke="#111" stroke-width="1.3"/>
<text x="516.65" y="444.10" text-anchor="middle" class="t">06-23</text>
<line x1="553.70" y1="426.60" x2="553.70" y2="432.10" stroke="#111" stroke-width="1.3"/>
<text x="553.70" y="444.10" text-anchor="middle" class="t">06-30</text>
<line x1="590.75" y1="426.60" x2="590.75" y2="432.10" stroke="#111" stroke-width="1.3"/>
<text x="590.75" y="444.10" text-anchor="middle" class="t">07-07</text>
<line x1="627.80" y1="426.60" x2="627.80" y2="432.10" stroke="#111" stroke-width="1.3"/>
<text x="627.80" y="444.10" text-anchor="middle" class="t">07-14</text>
<line x1="664.85" y1="426.60" x2="664.85" y2="432.10" stroke="#111" stroke-width="1.3"/>
<text x="664.85" y="444.10" text-anchor="middle" class="t">07-21</text>
<text x="535.75" y="461.90" text-anchor="middle" class="t2">Date (Month-day)</text>
<text transform="translate(357.10,339.90) rotate(-90)" text-anchor="middle" class="t2">Plant height (cm)</text>
<text x="393.80" y="258.60" class="lab">d</text>
<path d="M405.50,388.41V395.35M401.20,388.41H409.80M401.20,395.35H409.80" stroke="#000" stroke-width="1.2" fill="none"/>
<path d="M442.55,371.92V378.86M438.25,371.92H446.85M438.25,378.86H446.85" stroke="#000" stroke-width="1.2" fill="none"/>
<path d="M479.60,356.81V363.76M475.30,356.81H483.90M475.30,363.76H483.90" stroke="#000" stroke-width="1.2" fill="none"/>
<path d="M516.65,348.48V355.42M512.35,348.48H520.95M512.35,355.42H520.95" stroke="#000" stroke-width="1.2" fill="none"/>
<path d="M553.70,335.81V342.75M549.40,335.81H558.00M549.40,342.75H558.00" stroke="#000" stroke-width="1.2" fill="none"/>
<path d="M590.75,335.81V342.75M586.45,335.81H595.05M586.45,342.75H595.05" stroke="#000" stroke-width="1.2" fill="none"/>
<path d="M627.80,319.84V328.52M623.50,319.84H632.10M623.50,328.52H632.10" stroke="#000" stroke-width="1.2" fill="none"/>
<path d="M664.85,305.60V314.28M660.55,305.60H669.15M660.55,314.28H669.15" stroke="#000" stroke-width="1.2" fill="none"/>
<path d="M405.50,389.28V396.22M401.20,389.28H409.80M401.20,396.22H409.80" stroke="#000" stroke-width="1.2" fill="none"/>
<path d="M442.55,372.61V379.55M438.25,372.61H446.85M438.25,379.55H446.85" stroke="#000" stroke-width="1.2" fill="none"/>
<path d="M479.60,358.55V365.49M475.30,358.55H483.90M475.30,365.49H483.90" stroke="#000" stroke-width="1.2" fill="none"/>
<path d="M516.65,350.56V357.51M512.35,350.56H520.95M512.35,357.51H520.95" stroke="#000" stroke-width="1.2" fill="none"/>
<path d="M553.70,340.32V351.43M549.40,340.32H558.00M549.40,351.43H558.00" stroke="#000" stroke-width="1.2" fill="none"/>
<path d="M590.75,340.32V351.43M586.45,340.32H595.05M586.45,351.43H595.05" stroke="#000" stroke-width="1.2" fill="none"/>
<path d="M627.80,325.04V333.72M623.50,325.04H632.10M623.50,333.72H632.10" stroke="#000" stroke-width="1.2" fill="none"/>
<path d="M664.85,311.50V321.22M660.55,311.50H669.15M660.55,321.22H669.15" stroke="#000" stroke-width="1.2" fill="none"/>
<path d="M405.50,388.41V395.35M401.20,388.41H409.80M401.20,395.35H409.80" stroke="#000" stroke-width="1.2" fill="none"/>
<path d="M442.55,370.53V377.47M438.25,370.53H446.85M438.25,377.47H446.85" stroke="#000" stroke-width="1.2" fill="none"/>
<path d="M479.60,355.60V362.54M475.30,355.60H483.90M475.30,362.54H483.90" stroke="#000" stroke-width="1.2" fill="none"/>
<path d="M516.65,347.96V354.90M512.35,347.96H520.95M512.35,354.90H520.95" stroke="#000" stroke-width="1.2" fill="none"/>
<path d="M553.70,340.15V349.87M549.40,340.15H558.00M549.40,349.87H558.00" stroke="#000" stroke-width="1.2" fill="none"/>
<path d="M590.75,340.15V349.87M586.45,340.15H595.05M586.45,349.87H595.05" stroke="#000" stroke-width="1.2" fill="none"/>
<path d="M627.80,321.57V328.52M623.50,321.57H632.10M623.50,328.52H632.10" stroke="#000" stroke-width="1.2" fill="none"/>
<path d="M664.85,308.55V315.50M660.55,308.55H669.15M660.55,315.50H669.15" stroke="#000" stroke-width="1.2" fill="none"/>
<path d="M405.50,385.63V392.57M401.20,385.63H409.80M401.20,392.57H409.80" stroke="#000" stroke-width="1.2" fill="none"/>
<path d="M442.55,367.58V374.52M438.25,367.58H446.85M438.25,374.52H446.85" stroke="#000" stroke-width="1.2" fill="none"/>
<path d="M479.60,347.79V358.20M475.30,347.79H483.90M475.30,358.20H483.90" stroke="#000" stroke-width="1.2" fill="none"/>
<path d="M516.65,334.59V343.97M512.35,334.59H520.95M512.35,343.97H520.95" stroke="#000" stroke-width="1.2" fill="none"/>
<path d="M553.70,320.88V330.25M549.40,320.88H558.00M549.40,330.25H558.00" stroke="#000" stroke-width="1.2" fill="none"/>
<path d="M590.75,320.88V330.25M586.45,320.88H595.05M586.45,330.25H595.05" stroke="#000" stroke-width="1.2" fill="none"/>
<path d="M627.80,302.48V309.42M623.50,302.48H632.10M623.50,309.42H632.10" stroke="#000" stroke-width="1.2" fill="none"/>
<path d="M664.85,289.80V296.75M660.55,289.80H669.15M660.55,296.75H669.15" stroke="#000" stroke-width="1.2" fill="none"/>
<rect x="401.90" y="388.28" width="7.20" height="7.20" fill="#fff" stroke="#000" stroke-width="1.1"/>
<rect x="438.95" y="371.79" width="7.20" height="7.20" fill="#fff" stroke="#000" stroke-width="1.1"/>
<rect x="476.00" y="356.68" width="7.20" height="7.20" fill="#fff" stroke="#000" stroke-width="1.1"/>
<rect x="513.05" y="348.35" width="7.20" height="7.20" fill="#fff" stroke="#000" stroke-width="1.1"/>
<rect x="550.10" y="335.68" width="7.20" height="7.20" fill="#fff" stroke="#000" stroke-width="1.1"/>
<rect x="587.15" y="335.68" width="7.20" height="7.20" fill="#fff" stroke="#000" stroke-width="1.1"/>
<rect x="624.20" y="320.58" width="7.20" height="7.20" fill="#fff" stroke="#000" stroke-width="1.1"/>
<rect x="661.25" y="306.34" width="7.20" height="7.20" fill="#fff" stroke="#000" stroke-width="1.1"/>
<circle cx="405.50" cy="392.75" r="3.80" fill="#fff" stroke="#000" stroke-width="1.1"/>
<circle cx="442.55" cy="376.08" r="3.80" fill="#fff" stroke="#000" stroke-width="1.1"/>
<circle cx="479.60" cy="362.02" r="3.80" fill="#fff" stroke="#000" stroke-width="1.1"/>
<circle cx="516.65" cy="354.04" r="3.80" fill="#fff" stroke="#000" stroke-width="1.1"/>
<circle cx="553.70" cy="345.88" r="3.80" fill="#fff" stroke="#000" stroke-width="1.1"/>
<circle cx="590.75" cy="345.88" r="3.80" fill="#fff" stroke="#000" stroke-width="1.1"/>
<circle cx="627.80" cy="329.38" r="3.80" fill="#fff" stroke="#000" stroke-width="1.1"/>
<circle cx="664.85" cy="316.36" r="3.80" fill="#fff" stroke="#000" stroke-width="1.1"/>
<circle cx="405.50" cy="391.88" r="4.20" fill="#000"/>
<circle cx="442.55" cy="374.00" r="4.20" fill="#000"/>
<circle cx="479.60" cy="359.07" r="4.20" fill="#000"/>
<circle cx="516.65" cy="351.43" r="4.20" fill="#000"/>
<circle cx="553.70" cy="345.01" r="4.20" fill="#000"/>
<circle cx="590.75" cy="345.01" r="4.20" fill="#000"/>
<circle cx="627.80" cy="325.04" r="4.20" fill="#000"/>
<circle cx="664.85" cy="312.02" r="4.20" fill="#000"/>
<rect x="401.80" y="385.40" width="7.40" height="7.40" fill="#000"/>
<rect x="438.85" y="367.35" width="7.40" height="7.40" fill="#000"/>
<rect x="475.90" y="349.29" width="7.40" height="7.40" fill="#000"/>
<rect x="512.95" y="335.58" width="7.40" height="7.40" fill="#000"/>
<rect x="550.00" y="321.86" width="7.40" height="7.40" fill="#000"/>
<rect x="587.05" y="321.86" width="7.40" height="7.40" fill="#000"/>
<rect x="624.10" y="302.25" width="7.40" height="7.40" fill="#000"/>
<rect x="661.15" y="289.58" width="7.40" height="7.40" fill="#000"/>
<polyline points="405.50,391.88 442.55,375.39 479.60,360.28 516.65,351.95 553.70,339.28 590.75,339.28 627.80,324.18 664.85,309.94" fill="none" stroke="#000" stroke-width="1.2"/>
<polyline points="405.50,392.75 442.55,376.08 479.60,362.02 516.65,354.04 553.70,345.88 590.75,345.88 627.80,329.38 664.85,316.36" fill="none" stroke="#000" stroke-width="1.2"/>
<polyline points="405.50,391.88 442.55,374.00 479.60,359.07 516.65,351.43 553.70,345.01 590.75,345.01 627.80,325.04 664.85,312.02" fill="none" stroke="#000" stroke-width="1.2"/>
<polyline points="405.50,389.10 442.55,371.05 479.60,352.99 516.65,339.28 553.70,325.56 590.75,325.56 627.80,305.95 664.85,293.28" fill="none" stroke="#000" stroke-width="1.2"/>
<line x1="558.30" y1="389.40" x2="583.70" y2="389.40" stroke="#000" stroke-width="1.1"/>
<circle cx="571.00" cy="389.40" r="3.30" fill="none" stroke="#000" stroke-width="0.8"/>
<text x="585.90" y="392.70" class="t">NMF0</text>
<line x1="616.10" y1="389.40" x2="641.50" y2="389.40" stroke="#000" stroke-width="1.1"/>
<circle cx="628.80" cy="389.40" r="3.25" fill="#000"/>
<text x="643.70" y="392.70" class="t">MF0</text>
<line x1="558.30" y1="403.00" x2="583.70" y2="403.00" stroke="#000" stroke-width="1.1"/>
<rect x="568.00" y="400.00" width="6.00" height="6.00" fill="none" stroke="#000" stroke-width="0.8"/>
<text x="585.90" y="406.30" class="t">NMF1</text>
<line x1="616.10" y1="403.00" x2="641.50" y2="403.00" stroke="#000" stroke-width="1.1"/>
<rect x="626.10" y="400.30" width="5.40" height="5.40" fill="#000"/>
<text x="643.70" y="406.30" class="t">MF1</text>
</svg>
</body></html>
